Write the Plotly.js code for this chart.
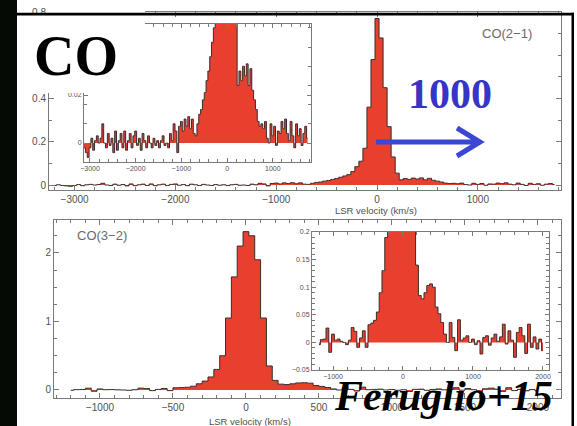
<!DOCTYPE html>
<html>
<head>
<meta charset="utf-8">
<script src="https://cdn.plot.ly/plotly-3.0.1.min.js"></script>
<style>html,body{margin:0;padding:0;background:#fff;}#chart{width:577px;height:426px;}</style>
</head>
<body>
<div id="chart"></div>
<script>
// ---- Data: CO(2-1) spectrum (LSR velocity km/s, flux Jy) ----
const v21 = [
-3200,-3160,-3120,-3080,-3040,-3000,-2960,-2920,-2880,-2840,
-2800,-2760,-2720,-2680,-2640,-2600,-2560,-2520,-2480,-2440,
-2400,-2360,-2320,-2280,-2240,-2200,-2160,-2120,-2080,-2040,
-2000,-1960,-1920,-1880,-1840,-1800,-1760,-1720,-1680,-1640,
-1600,-1560,-1520,-1480,-1440,-1400,-1360,-1320,-1280,-1240,
-1200,-1160,-1120,-1080,-1040,-1000,-960,-920,-880,-840,
-800,-760,-720,-680,-640,-600,-560,-520,-480,-440,
-400,-360,-320,-280,-240,-200,-160,-120,-80,-40,
0,40,80,120,160,200,240,280,320,360,
400,440,480,520,560,600,640,680,720,760,
800,840,880,920,960,1000,1040,1080,1120,1160,
1200,1240,1280,1320,1360,1400,1440,1480,1520,1560,
1600,1640,1680,1720,1760];
const f21 = [
-0.002,0.001,-0.002,-0.004,-0.006,-0.002,0.002,-0.003,0.001,0.003,
0.000,0.002,0.008,0.000,-0.002,0.004,-0.001,0.002,-0.004,0.005,
-0.003,0.001,0.004,-0.002,0.005,-0.003,0.001,0.004,-0.002,0.003,
0.005,-0.001,0.002,-0.003,0.004,0.001,-0.002,0.003,0.000,-0.002,
0.002,-0.001,0.001,-0.002,0.001,0.003,-0.001,0.000,-0.002,0.004,
0.001,0.008,0.005,-0.004,0.007,0.009,0.005,0.010,0.007,0.011,
0.006,0.010,0.004,0.003,0.008,0.012,0.014,0.018,0.021,0.026,
0.030,0.036,0.042,0.048,0.062,0.085,0.11,0.17,0.36,0.58,
0.77,0.68,0.45,0.27,0.13,0.055,0.024,0.030,0.026,0.032,
0.028,0.033,0.024,0.031,0.022,0.018,0.014,0.009,0.007,0.008,
0.006,0.009,0.002,0.000,0.008,0.003,0.007,-0.001,0.005,0.004,
0.009,0.006,0.010,0.004,0.001,0.009,0.003,-0.002,0.008,0.003,
0.006,-0.001,0.004,0.007,0.002];

// ---- Data: CO(3-2) spectrum ----
const v32 = [
-1200,-1160,-1120,-1080,-1040,-1000,-960,-920,-880,-840,
-800,-760,-720,-680,-640,-600,-560,-520,-480,-440,
-400,-360,-320,-280,-240,-200,-160,-120,-80,-40,
0,40,80,120,160,200,240,280,320,360,
400,440,480,520,560,600,640,680,720,760,
800,840,880,920,960,1000,1040,1080,1120,1160,
1200,1240,1280,1320,1360,1400,1440,1480,1520,1560,
1600,1640,1680,1720,1760,1800,1840,1880,1920,1960,
2000];
const f32 = [
-0.004,0.005,0.006,0.026,-0.018,0.015,0.004,0.006,0.002,0.000,
-0.004,0.004,0.027,0.020,-0.009,0.008,0.021,-0.009,0.032,0.035,
0.040,0.055,0.090,0.13,0.19,0.30,0.50,1.05,1.65,2.10,
2.31,2.25,1.90,1.05,0.35,0.14,0.085,0.079,0.090,0.103,
0.106,0.100,0.064,0.052,0.036,0.015,0.000,0.036,0.009,-0.015,
0.041,0.004,0.008,0.012,0.000,0.006,-0.004,0.003,-0.021,0.009,
0.012,-0.005,0.008,0.015,0.002,0.010,0.033,-0.003,0.021,0.004,
-0.027,0.018,0.027,0.012,-0.020,0.033,-0.009,0.010,-0.012,0.006,
-0.015];

// ---- Labels / ticks ----
const panelLabels = ["CO(2\u22121)", "CO(3\u22122)"];
const axisTitle = "LSR velocity (km/s)";
const slideTitle = "CO";
const arrowLabel = "1000";
const credit = "Feruglio+15";
const topMainYTicks = [0, 0.2, 0.4, 0.8];
const topInsetYTicks = [0, 0.02];

// ---- Layout helpers (pixel -> paper) ----
const W = 577, H = 426;
const px = x => x / W;
const py = y => 1 - y / H;

const RED = '#e8402f', EDGE = '#3a2b2b', AX = '#7a7a7a';
function spec(x, y, xa, ya) {
  return {x: x, y: y, xaxis: xa, yaxis: ya, type: 'scatter', mode: 'lines',
    line: {shape: 'hvh', color: EDGE, width: 1}, fill: 'tozeroy', fillcolor: RED, hoverinfo: 'skip'};
}
function ax(fs, extra) {
  return Object.assign({
    showline: true, linecolor: AX, linewidth: 1, mirror: 'ticks', ticks: 'inside',
    ticklen: 5, tickwidth: 1, tickcolor: AX, showgrid: false, zeroline: false,
    tickfont: {family: 'Liberation Sans, Arial, sans-serif', size: fs, color: '#505050'},
    fixedrange: true
  }, extra);
}
function minor(d) { return {ticks: 'inside', ticklen: 3, tickcolor: AX, dtick: d, showgrid: false}; }

const data = [
  spec(v21, f21, 'x', 'y'),
  spec(v21, f21, 'x2', 'y2'),
  spec(v32, f32, 'x3', 'y3'),
  spec(v32, f32, 'x4', 'y4')
];

const layout = {
  width: W, height: H, margin: {l: 0, r: 0, t: 0, b: 0},
  paper_bgcolor: '#ffffff', plot_bgcolor: 'rgba(0,0,0,0)', showlegend: false,
  xaxis:  ax(10, {domain: [px(49), px(561)], range: [-3254, 1825], dtick: 1000, tick0: 0, minor: minor(200), anchor: 'y'}),
  yaxis:  ax(10, {domain: [py(190), py(12)], range: [-0.023, 0.8], tickmode: 'array', tickvals: topMainYTicks, ticktext: topMainYTicks.map(String), minor: minor(0.1), anchor: 'x'}),
  xaxis2: ax(7, {domain: [px(84), px(311)], range: [-3131, 1836], dtick: 1000, tick0: 0, minor: minor(200), anchor: 'y2', ticklen: 4}),
  yaxis2: ax(7, {domain: [py(162), py(24)], range: [-0.0079, 0.0496], tickmode: 'array', tickvals: topInsetYTicks, ticktext: topInsetYTicks.map(String), minor: minor(0.008), anchor: 'x2', ticklen: 4}),
  xaxis3: ax(10, {domain: [px(54), px(561)], range: [-1315, 2158], dtick: 500, tick0: 0, minor: minor(100), anchor: 'y3'}),
  yaxis3: ax(10, {domain: [py(398), py(220)], range: [-0.117, 2.48], dtick: 1, tick0: 0, minor: minor(0.25), anchor: 'x3'}),
  xaxis4: ax(7, {domain: [px(312), px(549)], range: [-1300, 2086], dtick: 1000, tick0: 0, minor: minor(200), anchor: 'y4', ticklen: 4}),
  yaxis4: ax(7, {domain: [py(370), py(232)], range: [-0.05, 0.2], dtick: 0.05, tick0: 0, minor: minor(0.01), anchor: 'x4', ticklen: 4}),
  shapes: [
    {type: 'rect', layer: 'above', xref: 'paper', yref: 'paper', x0: px(17), x1: px(145), y0: py(93), y1: py(15), fillcolor: '#ffffff', line: {width: 0}},
    {type: 'rect', layer: 'above', xref: 'paper', yref: 'paper', x0: px(47), x1: px(145), y0: py(15), y1: 1, fillcolor: '#ffffff', line: {width: 0}},
    {type: 'rect', layer: 'above', xref: 'paper', yref: 'paper', x0: 0, x1: px(17), y0: 0, y1: 1, fillcolor: '#060a05', line: {width: 0}},
    {type: 'rect', layer: 'above', xref: 'paper', yref: 'paper', x0: px(17), x1: px(574), y0: py(15.5), y1: py(12.7), fillcolor: '#000000', line: {width: 0}},
    {type: 'rect', layer: 'above', xref: 'paper', yref: 'paper', x0: px(571.5), x1: px(574), y0: 0, y1: py(12.7), fillcolor: '#000000', line: {width: 0}},
    {type: 'path', layer: 'above', xref: 'paper', yref: 'paper',
     path: `M ${px(376)},${py(142)} L ${px(477)},${py(142)} M ${px(457)},${py(128)} L ${px(480)},${py(142)} L ${px(457)},${py(156)}`,
     line: {color: '#3b47d4', width: 5}}
  ],
  annotations: [
    {text: '<b>' + slideTitle + '</b>', xref: 'paper', yref: 'paper', x: px(76), y: py(56), xanchor: 'center', yanchor: 'middle', showarrow: false,
     font: {family: 'Liberation Serif, Times New Roman, serif', size: 56, color: '#000'}},
    {text: '<b>' + arrowLabel + '</b>', xref: 'paper', yref: 'paper', x: px(450), y: py(94), xanchor: 'center', yanchor: 'middle', showarrow: false,
     font: {family: 'Liberation Serif, Times New Roman, serif', size: 42, color: '#3535c8'}},
    {text: panelLabels[0], xref: 'paper', yref: 'paper', x: px(507), y: py(33), xanchor: 'center', yanchor: 'middle', showarrow: false,
     font: {family: 'Liberation Sans, Arial, sans-serif', size: 13, color: '#6a6a6a'}},
    {text: panelLabels[1], xref: 'paper', yref: 'paper', x: px(102), y: py(235), xanchor: 'center', yanchor: 'middle', showarrow: false,
     font: {family: 'Liberation Sans, Arial, sans-serif', size: 13, color: '#6a6a6a'}},
    {text: axisTitle, xref: 'paper', yref: 'paper', x: px(376), y: py(211), xanchor: 'center', yanchor: 'middle', showarrow: false,
     font: {family: 'Liberation Sans, Arial, sans-serif', size: 9.5, color: '#505050'}},
    {text: axisTitle, xref: 'paper', yref: 'paper', x: px(250), y: py(421), xanchor: 'center', yanchor: 'middle', showarrow: false,
     font: {family: 'Liberation Sans, Arial, sans-serif', size: 9.5, color: '#505050'}},
    {text: '<b><i>' + credit + '</i></b>', xref: 'paper', yref: 'paper', x: px(444), y: py(396), xanchor: 'center', yanchor: 'middle', showarrow: false,
     font: {family: 'Liberation Serif, Times New Roman, serif', size: 42, color: '#000'}}
  ]
};

Plotly.newPlot('chart', data, layout, {staticPlot: true, displayModeBar: false});
</script>
</body>
</html>
